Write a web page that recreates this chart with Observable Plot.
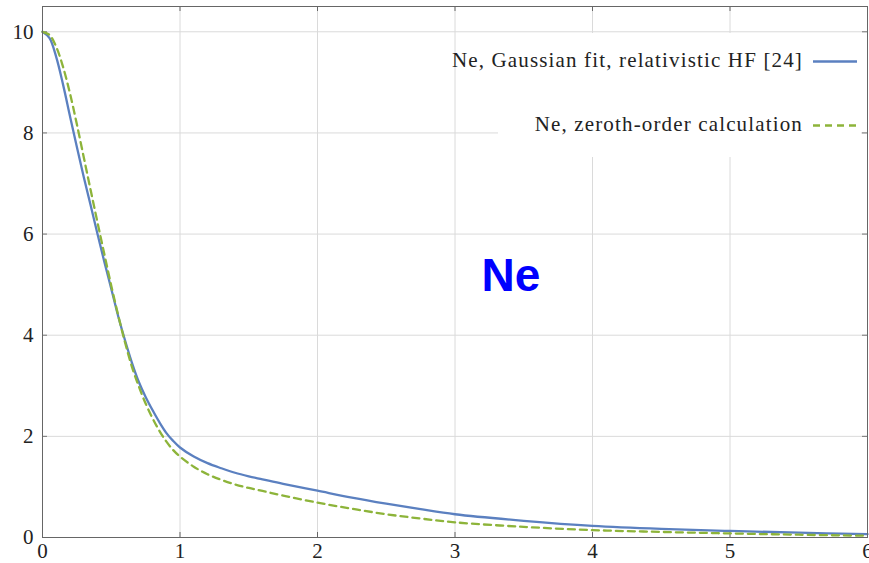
<!DOCTYPE html>
<html>
<head>
<meta charset="utf-8">
<script src="https://cdn.jsdelivr.net/npm/d3@7"></script>
<script src="https://cdn.jsdelivr.net/npm/@observablehq/plot@0.6"></script>
<style>
  body { margin: 0; background: #fff; }
  #chart { width: 869px; height: 563px; }
</style>
</head>
<body>
<div id="chart"></div>
<script>
// Radial grid shared by both curves
const r = [0, 0.05, 0.1, 0.15, 0.2, 0.25, 0.3, 0.35, 0.4, 0.45, 0.5, 0.55, 0.6, 0.65, 0.7,
  0.75, 0.8, 0.85, 0.9, 0.95, 1.0, 1.1, 1.2, 1.3, 1.4, 1.5, 1.6, 1.75, 2.0, 2.25, 2.5, 2.75,
  3.0, 3.5, 4.0, 4.5, 5.0, 5.5, 6.0];

// Ne, Gaussian fit to relativistic HF
const gaussianFit = [10, 9.88, 9.5, 8.95, 8.33, 7.72, 7.13, 6.57, 6.0, 5.45, 4.92, 4.38, 3.9, 3.46, 3.08,
  2.78, 2.52, 2.28, 2.07, 1.91, 1.78, 1.6, 1.47, 1.37, 1.28, 1.21, 1.15, 1.06, 0.925, 0.79, 0.67, 0.56,
  0.46, 0.33, 0.23, 0.17, 0.13, 0.095, 0.067];

// Ne, zeroth-order calculation
const zerothOrder = [10, 9.94, 9.7, 9.3, 8.78, 8.17, 7.52, 6.87, 6.23, 5.6, 4.98, 4.4, 3.86, 3.38, 2.99,
  2.65, 2.36, 2.11, 1.9, 1.73, 1.6, 1.4, 1.25, 1.14, 1.05, 0.98, 0.92, 0.83, 0.69, 0.57, 0.46, 0.375,
  0.30, 0.21, 0.146, 0.11, 0.08, 0.055, 0.034];

const xTicks = [0, 1, 2, 3, 4, 5, 6];
const yTicks = [0, 2, 4, 6, 8, 10];
const seriesLabels = ["Ne, Gaussian fit, relativistic HF [24]", "Ne, zeroth-order calculation"];
const seriesColors = ["#5b80c0", "#8db43a"];
const seriesDash = [null, "7,5"];
const annotation = "Ne";

const rows = r.map((x, i) => ({r: x, fit: gaussianFit[i], zero: zerothOrder[i]}));

const W = 869, H = 563;
const mL = 42, mR = 2, mT = 6, mB = 26;
const frameW = W - mL - mR, frameH = H - mT - mB;
const tickLen = 5;
const serif = "'Liberation Serif', 'DejaVu Serif', serif";

const chart = Plot.plot({
  width: W, height: H,
  marginLeft: mL, marginRight: mR, marginTop: mT, marginBottom: mB,
  style: {fontFamily: serif, fontSize: "21px", color: "#222", background: "#fff"},
  x: {domain: [0, 6], label: null},
  y: {domain: [0, 10.5], label: null},
  marks: [
    Plot.gridX(xTicks, {stroke: "#dadada", strokeOpacity: 1}),
    Plot.gridY(yTicks, {stroke: "#dadada", strokeOpacity: 1}),
    // inward ticks on all four sides of the box
    Plot.tickX(xTicks, {x: d => d, insetTop: frameH - tickLen, stroke: "#666"}),
    Plot.tickX(xTicks, {x: d => d, insetBottom: frameH - tickLen, stroke: "#666"}),
    Plot.tickY(yTicks, {y: d => d, insetRight: frameW - tickLen, stroke: "#777"}),
    Plot.tickY(yTicks, {y: d => d, insetLeft: frameW - tickLen, stroke: "#777"}),
    Plot.line(rows, {x: "r", y: "fit", stroke: seriesColors[0], strokeWidth: 2.3, curve: "catmull-rom"}),
    Plot.line(rows, {x: "r", y: "zero", stroke: seriesColors[1], strokeWidth: 2.3,
      strokeDasharray: seriesDash[1], curve: "catmull-rom"}),
    Plot.text([annotation], {frameAnchor: "middle", dx: 56, dy: 4, fill: "#0000ff",
      fontFamily: "'Liberation Sans', Arial, sans-serif", fontWeight: "bold", fontSize: 46}),
    Plot.axisX(xTicks, {tickSize: 0, tickPadding: 6, fontSize: 21, tickFormat: d => String(d), label: null}),
    Plot.axisY(yTicks, {tickSize: 0, tickPadding: 9, fontSize: 21, tickFormat: d => String(d), label: null}),
    Plot.frame({stroke: "#666"})
  ]
});

// Legend box in the upper right corner of the plot area
const svg = d3.select(chart);
const legend = svg.append("g").attr("class", "legend");
legend.append("rect")
  .attr("x", 498).attr("y", 33).attr("width", 363).attr("height", 124)
  .attr("fill", "#fff");
const rowY = [67, 131];
seriesLabels.forEach((label, i) => {
  legend.append("text")
    .attr("x", 803).attr("y", rowY[i])
    .attr("text-anchor", "end")
    .attr("font-family", serif).attr("font-size", 21)
    .attr("letter-spacing", "1.15px").attr("fill", "#222")
    .text(label);
  legend.append("line")
    .attr("x1", 813).attr("x2", 857)
    .attr("y1", rowY[i] - 5.5).attr("y2", rowY[i] - 5.5)
    .attr("stroke", seriesColors[i]).attr("stroke-width", 2.3)
    .attr("stroke-dasharray", seriesDash[i]);
});

document.getElementById("chart").appendChild(chart);
</script>
</body>
</html>
